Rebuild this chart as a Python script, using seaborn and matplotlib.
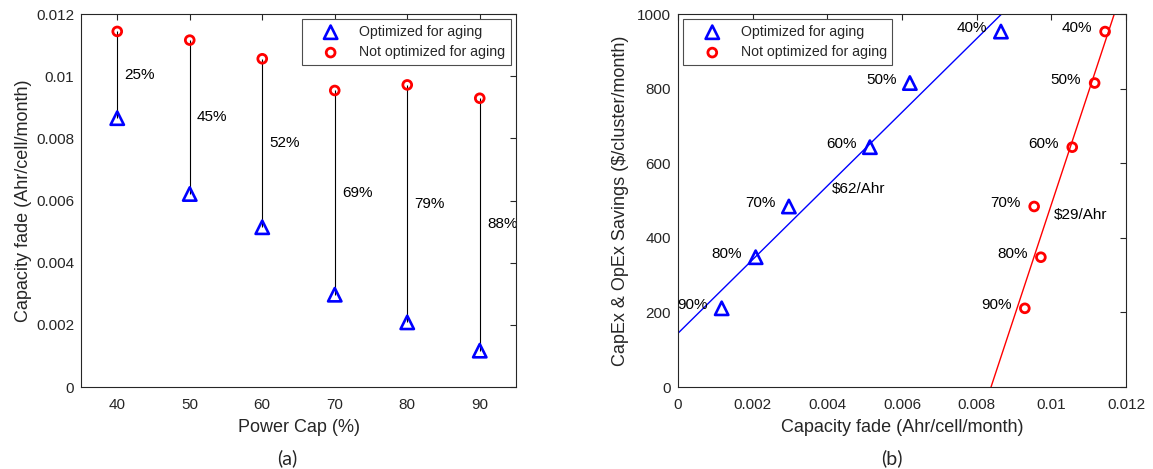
import numpy as np
import matplotlib
matplotlib.use("Agg")
import matplotlib.pyplot as plt
from matplotlib.ticker import FuncFormatter
import seaborn as sns

# ---------------- data ----------------
power_cap = [40, 50, 60, 70, 80, 90]
fade_opt = [0.00865, 0.00621, 0.00514, 0.00297, 0.00208, 0.00117]
fade_not = [0.01144, 0.01116, 0.01056, 0.00954, 0.00972, 0.00929]
reduction_labels = ["25%", "45%", "52%", "69%", "79%", "88%"]
savings = [953, 815, 643, 484, 348, 211]
cap_labels = ["40%", "50%", "60%", "70%", "80%", "90%"]
rate_labels = ["\\$62/Ahr", "\\$29/Ahr"]
series_names = ["Optimized for aging", "Not optimized for aging"]

sns.set_theme(style="white")
plt.rcParams["font.family"] = ["Liberation Sans", "DejaVu Sans"]
plt.rcParams["axes.edgecolor"] = "0.15"
plt.rcParams["axes.linewidth"] = 0.8
plt.rcParams["xtick.color"] = "0.15"
plt.rcParams["ytick.color"] = "0.15"

fig = plt.figure(figsize=(11.53, 4.69), dpi=100)
axA = fig.add_axes([81 / 1153, 0.1748, 435 / 1153, 0.7953])
axB = fig.add_axes([678 / 1153, 0.1748, 448 / 1153, 0.7953])

gfmt = FuncFormatter(lambda v, p: "%g" % round(v, 6))

def style_axes(ax):
    ax.tick_params(direction="in", top=True, right=True, length=4.5, width=0.8,
                   labelsize=11, colors="0.15")
    ax.tick_params(axis="x", pad=8)
    ax.tick_params(axis="y", pad=5)
    for s in ax.spines.values():
        s.set_visible(True)
        s.set_color("0.15")
        s.set_linewidth(0.8)

tri_kw = dict(marker="^", s=92, facecolor="none", edgecolor="blue", linewidth=1.9, zorder=3)
cir_kw = dict(marker="o", s=40, facecolor="none", edgecolor="red", linewidth=2.0, zorder=3)
leg_kw = dict(fontsize=10.2, fancybox=False, framealpha=1, edgecolor="0.3",
              borderpad=0.4, handlelength=3.3, handletextpad=0.35,
              labelspacing=0.45, borderaxespad=0.37)

# ---------------- (a) ----------------
axA.vlines(power_cap, fade_opt, fade_not, color="black", linewidth=0.8, zorder=2)
sns.scatterplot(x=power_cap, y=fade_opt, ax=axA, label=series_names[0], **tri_kw)
sns.scatterplot(x=power_cap, y=fade_not, ax=axA, label=series_names[1], **cir_kw)
for x, lo, hi, t in zip(power_cap, fade_opt, fade_not, reduction_labels):
    axA.text(x + 1.0, (lo + hi) / 2, t, ha="left", va="center", fontsize=11,
             color="black", clip_on=True)
axA.set_xlim(35, 95)
axA.set_ylim(0, 0.012)
axA.set_xticks(power_cap)
axA.set_yticks(np.arange(0, 0.0121, 0.002))
axA.yaxis.set_major_formatter(gfmt)
axA.set_xlabel("Power Cap (%)", fontsize=13, color="0.15", labelpad=5)
axA.set_ylabel("Capacity fade (Ahr/cell/month)", fontsize=13, color="0.15", labelpad=3)
style_axes(axA)
legA = axA.legend(loc="upper right", **leg_kw)
legA.get_frame().set_linewidth(0.8)

# ---------------- (b) ----------------
sns.scatterplot(x=fade_opt, y=savings, ax=axB, label=series_names[0], **tri_kw)
sns.scatterplot(x=fade_not, y=savings, ax=axB, label=series_names[1], **cir_kw)
k1, b1 = np.polyfit(fade_opt, savings, 1)
k2, b2 = np.polyfit(fade_not, savings, 1)
axB.axline((0, b1), slope=k1, color="blue", linewidth=1.0, zorder=2)
axB.axline((0, b2), slope=k2, color="red", linewidth=1.0, zorder=2)
for xs in (fade_opt, fade_not):
    for x, y, t in zip(xs, savings, cap_labels):
        axB.text(x - 0.00036, y + 9, t, ha="right", va="center", fontsize=11,
                 color="black")
axB.text(0.00413, 531, rate_labels[0], ha="left", va="center", fontsize=11, color="black")
axB.text(0.01006, 461, rate_labels[1], ha="left", va="center", fontsize=11, color="black")
axB.set_xlim(0, 0.012)
axB.set_ylim(0, 1000)
axB.set_xticks(np.arange(0, 0.0121, 0.002))
axB.set_yticks(np.arange(0, 1001, 200))
axB.xaxis.set_major_formatter(gfmt)
axB.set_xlabel("Capacity fade (Ahr/cell/month)", fontsize=13, color="0.15", labelpad=5)
axB.set_ylabel("CapEx & OpEx Savings (\\$/cluster/month)", fontsize=13, color="0.15", labelpad=6)
style_axes(axB)
legB = axB.legend(loc="upper left", **leg_kw)
legB.get_frame().set_linewidth(0.8)

fig.text(287 / 1153, 0.022, "(a)", ha="center", va="center", fontsize=14,
         family=["Lato", "DejaVu Sans"])
fig.text(892 / 1153, 0.022, "(b)", ha="center", va="center", fontsize=14,
         family=["Lato", "DejaVu Sans"])

fig.savefig("out.png", dpi=100)
